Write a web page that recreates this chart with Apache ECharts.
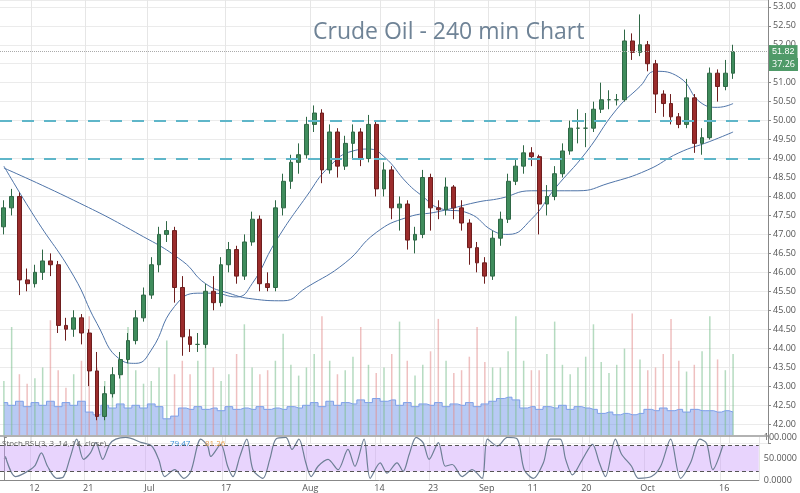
<!DOCTYPE html>
<html>
<head>
<meta charset="utf-8">
<script src="https://cdn.jsdelivr.net/npm/echarts@6/dist/echarts.min.js"></script>
<style>html,body{margin:0;padding:0;background:#fff}#chart{width:800px;height:493px}</style>
</head>
<body>
<div id="chart"></div>
<script>
// daily bars, Jun 6 .. Oct 16
const firstOpen = 47.2;
const closes = [47.7, 48.0, 45.8, 45.7, 46.0, 46.3, 46.2, 44.6, 44.5, 44.8, 44.4, 43.4, 42.2, 42.8, 43.3, 43.7, 44.2, 44.8, 45.4, 46.2,
  47.0, 47.1, 45.6, 44.3, 44.1, 44.1, 45.5, 45.2, 46.2, 46.6, 45.9, 46.8, 47.4, 45.7, 45.6, 47.7, 48.4, 48.9, 49.1, 49.9,
  50.2, 48.7, 49.7, 48.8, 49.4, 49.7, 49.0, 49.9, 48.2, 48.7, 47.7, 47.8, 46.85, 47.0, 48.5, 47.7, 47.65, 48.25, 47.7, 47.3,
  46.65, 46.25, 45.9, 46.9, 47.4, 48.4, 48.8, 49.15, 49.05, 47.8, 48.0, 48.6, 49.2, 49.8, 49.8, 49.8, 50.3, 50.55, 50.55, 50.55,
  52.1, 51.8, 52.0, 51.5, 50.7, 50.45, 50.1, 49.9, 50.6, 49.4, 49.55, 51.25, 50.9, 51.25, 51.82];
const highs = [47.9, 48.2, 48.1, 46.1, 46.2, 46.6, 46.5, 46.3, 44.8, 45.0, 44.9, 44.5, 43.9, 43.0, 43.5, 43.9, 44.4, 45.0, 45.6, 46.4,
  47.2, 47.35, 47.2, 45.9, 44.5, 44.4, 45.7, 45.9, 46.4, 46.8, 46.7, 47.0, 47.6, 47.5, 46.0, 47.9, 48.6, 49.1, 49.4, 50.1,
  50.4, 50.3, 49.9, 49.8, 49.6, 49.9, 49.8, 50.15, 50.0, 48.9, 48.8, 48.0, 47.9, 47.2, 48.7, 48.6, 47.9, 48.5, 48.3, 47.9,
  47.4, 46.8, 46.4, 47.1, 47.6, 48.6, 49.0, 49.35, 49.3, 49.1, 48.3, 48.8, 49.4, 50.0, 50.3, 50.2, 50.5, 51.0, 50.8, 50.7,
  52.4, 52.3, 52.8, 52.1, 51.6, 50.8, 50.7, 50.2, 51.1, 50.7, 49.8, 51.4, 51.35, 51.6, 52.0];
const lows = [47.0, 47.5, 45.4, 45.5, 45.6, 45.8, 45.9, 44.4, 44.2, 44.3, 44.1, 43.0, 42.1, 42.1, 42.7, 43.2, 43.6, 44.1, 44.7, 45.3,
  46.0, 46.8, 45.2, 43.8, 43.9, 43.9, 44.0, 45.0, 45.1, 46.0, 45.7, 45.8, 46.7, 45.5, 45.5, 45.5, 47.5, 48.2, 48.6, 49.0,
  49.7, 48.35, 48.6, 48.5, 48.7, 49.0, 48.8, 48.9, 48.0, 48.0, 47.4, 47.1, 46.6, 46.5, 46.9, 47.1, 47.4, 47.5, 47.4, 47.1,
  46.2, 46.0, 45.7, 45.8, 46.7, 47.3, 48.3, 48.6, 48.8, 47.0, 47.5, 47.9, 48.5, 49.1, 49.4, 49.3, 49.7, 50.2, 50.3, 50.4,
  50.5, 51.6, 51.7, 51.3, 50.2, 50.1, 49.9, 49.8, 49.8, 49.15, 49.1, 49.5, 50.5, 50.8, 51.1];

// moving averages, read at [bar index, price]
const maFast = [[0, 48.8], [4, 47.45], [9, 45.9], [12, 44.65], [15, 43.7], [17, 43.6], [19, 43.95], [22, 45.1], [25, 45.45],
  [27, 45.45], [30, 45.35], [32, 45.7], [35, 46.8], [39, 48.0], [42, 48.8], [45, 49.2], [47, 49.25], [49, 49.05], [52, 48.35],
  [54, 48.0], [56, 47.7], [60, 47.55], [63, 47.1], [65, 47.0], [68, 47.4], [71, 48.2], [75, 49.15], [79, 50.3], [82, 50.9],
  [84, 51.3], [87, 51.15], [90, 50.45], [92, 50.35], [94, 50.45]];
const maSlow = [[0, 48.75], [9, 47.9], [17, 47.05], [23, 46.3], [26, 45.7], [29, 45.45], [32, 45.3], [36, 45.25], [39, 45.6],
  [44, 46.25], [48, 47.05], [52, 47.45], [56, 47.6], [61, 47.85], [64, 47.95], [68, 48.15], [74, 48.15], [78, 48.35],
  [83, 48.7], [87, 49.15], [91, 49.45], [94, 49.7]];

const volAvg = [24, 22, 25, 21, 24, 22, 25, 21, 24, 22, 25, 17, 15, 22, 20, 23, 20, 22, 20, 23, 21, 12, 14,
  20, 19, 21, 19, 20, 18, 21, 19, 20, 19, 21, 19, 20, 19, 21, 20, 22, 24, 21, 25, 22, 24, 23, 26, 24, 27, 25, 26,
  22, 24, 21, 23, 22, 24, 21, 23, 22, 24, 21, 23, 25, 27, 28, 26, 20, 21, 19, 21, 20, 22, 19, 21, 20, 19,
  16, 17, 15, 16, 15, 16, 19, 18, 20, 18, 19, 17, 19, 18, 18, 17, 18, 17];
const volBars = [40, 80, 45, 38, 42, 50, 85, 48, 35, 45, 55, 88, 50, 40, 42, 52, 80, 48, 38, 40, 50, 70, 45, 55,
  45, 55, 85, 50, 40, 45, 60, 82, 50, 45, 48, 55, 75, 52, 44, 50, 60, 88, 55, 45, 48, 58, 80, 52, 46,
  50, 60, 84, 55, 44, 52, 62, 86, 55, 46, 48, 58, 80, 54, 50, 50, 62, 88, 55, 48, 48, 60, 84, 52, 45,
  50, 58, 82, 54, 46, 52, 64, 90, 56, 48, 50, 60, 86, 55, 47, 52, 62, 88, 56, 48, 60];

// stoch RSI %K read at [bar index, value]
const stochK = [[0.2, 55], [1.5, 8], [2.7, 16], [4, 32], [4.9, 63], [5.7, 32], [6.9, 4], [7.8, 8], [8.7, 55], [9.5, 95],
  [10.4, 48], [11.3, 63], [12, 87], [12.9, 48], [13.8, 83], [14.6, 95], [15.9, 99], [18, 87], [19.3, 79], [20.2, 48],
  [21, 8], [22.3, 24], [23.5, 4], [24.4, 20], [25.7, 95], [26.6, 79], [27, 55], [28.3, 83], [29.2, 32], [29.9, 8],
  [30.8, 55], [31.7, 95], [32.5, 24], [33.8, 4], [34.7, 48], [35.5, 95], [36.8, 99], [37.6, 71], [38.5, 95], [39.4, 40],
  [40.1, 8], [41, 32], [42.3, 48], [43.6, 24], [44.9, 71], [45.8, 32], [47, 95], [47.8, 4], [49.1, 40], [50, 16],
  [51.3, 40], [52.1, 20], [52.9, 60], [53.8, 99], [54.7, 87], [55.5, 48], [56.7, 87], [57.6, 32], [58.5, 36], [59.8, 8],
  [61.1, 24], [62.4, 4], [63.1, 95], [64.4, 79], [65.7, 99], [67, 95], [67.9, 24], [69.1, 4], [70.4, 40], [71.3, 95],
  [72.6, 95], [73.3, 48], [74.2, 12], [75.5, 48], [76.8, 83], [77.7, 40], [78.5, 8], [79.8, 95], [80.6, 60], [81.9, 32],
  [82.8, 4], [84.5, 8], [85.7, 32], [87, 95], [88.3, 4], [89.6, 40], [90.8, 95], [91.7, 85], [92.5, 24], [93.8, 79]];

const tickLabels = { '06-12': '12', '06-21': '21', '07-03': 'Jul', '07-17': '17', '08-01': 'Aug', '08-14': '14',
  '08-23': '23', '09-01': 'Sep', '09-11': '11', '09-20': '20', '10-02': 'Oct', '10-16': '16' };

// weekday categories, a few empty ones after the last bar
const dates = [];
const d = new Date(2017, 5, 6);
while (dates.length < 99) {
  if (d.getDay() !== 0 && d.getDay() !== 6) {
    dates.push(String(d.getMonth() + 1).padStart(2, '0') + '-' + String(d.getDate()).padStart(2, '0'));
  }
  d.setDate(d.getDate() + 1);
}

const candles = closes.map((c, i) => [i === 0 ? firstOpen : closes[i - 1], c, lows[i], highs[i]]);
const volBarData = volBars.map((v, i) => ({
  value: v,
  itemStyle: { color: candles[i][1] >= candles[i][0] ? 'rgba(120,190,140,0.55)' : 'rgba(225,140,140,0.55)' },
}));

const tickShown = (idx, val) => tickLabels[val] !== undefined;
const G = { left: 0, right: 32 };
const txt = { color: '#555', fontSize: 9, fontFamily: 'Open Sans' };

const chart = echarts.init(document.getElementById('chart'));
chart.setOption({
  animation: false,
  title: {
    text: 'Crude Oil - 240 min Chart', left: 308, top: 16,
    textStyle: { color: '#6f8396', fontSize: 23, fontWeight: 'normal', fontFamily: 'Open Sans' },
  },
  grid: [
    { ...G, top: 0, height: 443 },
    { ...G, top: 300, height: 135 },
    { ...G, top: 437, height: 43 },
  ],
  xAxis: [
    { type: 'category', data: dates, gridIndex: 0, axisLine: { show: false }, axisTick: { show: false },
      axisLabel: { show: false }, splitLine: { show: true, interval: tickShown, lineStyle: { color: '#e6e6e6' } } },
    { type: 'category', data: dates, gridIndex: 1, show: false },
    { type: 'category', data: dates, gridIndex: 2, axisLine: { lineStyle: { color: '#888' } }, axisTick: { show: false },
      axisLabel: { ...txt, interval: tickShown, formatter: v => tickLabels[v], margin: 4 },
      splitLine: { show: true, interval: tickShown, lineStyle: { color: '#e6e6e6' } } },
    { type: 'value', gridIndex: 2, min: -0.5, max: 98.5, show: false },
  ],
  yAxis: [
    { type: 'value', gridIndex: 0, position: 'right', min: 41.5, max: 53.18, interval: 0.5,
      axisLine: { show: true, lineStyle: { color: '#888' } }, axisTick: { show: true, length: 3, lineStyle: { color: '#888' } },
      axisLabel: { ...txt, margin: 5, showMaxLabel: false, formatter: v => (v < 42 || v > 53) ? '' : v.toFixed(2) },
      splitLine: { lineStyle: { color: '#ebebeb' } } },
    { type: 'value', gridIndex: 1, min: 0, max: 100, show: false },
    { type: 'value', gridIndex: 2, position: 'right', min: 0, max: 100, interval: 50,
      axisLine: { show: true, lineStyle: { color: '#888' } }, axisTick: { show: true, length: 3 },
      axisLabel: { ...txt, margin: 5, formatter: v => v === 100 ? '100.000' : v === 50 ? '50.0000' : '0.0000' },
      splitLine: { show: false } },
  ],
  series: [
    { type: 'bar', xAxisIndex: 1, yAxisIndex: 1, data: volBarData, barWidth: 1.5, z: 1 },
    { type: 'line', xAxisIndex: 1, yAxisIndex: 1, data: volAvg, step: 'middle', symbol: 'none', z: 1,
      lineStyle: { color: '#7d9fe8', width: 1 }, areaStyle: { color: 'rgba(120,155,235,0.75)' } },
    { type: 'candlestick', xAxisIndex: 0, yAxisIndex: 0, data: candles, barWidth: '55%', z: 3,
      itemStyle: { color: '#3f8c5c', color0: '#9b2c2c', borderColor: '#2f6846', borderColor0: '#6e1e1e', borderWidth: 1 },
      markLine: {
        symbol: 'none', silent: true,
        data: [
          { yAxis: 50, lineStyle: { color: '#5fb6c9', width: 2, type: [12, 10] }, label: { show: false } },
          { yAxis: 49, lineStyle: { color: '#5fb6c9', width: 2, type: [12, 10] }, label: { show: false } },
          { yAxis: 51.82, lineStyle: { color: '#aaa', width: 1, type: 'dotted' },
            label: { position: 'end', formatter: '51.82', color: '#fff', fontSize: 9, backgroundColor: '#4f9a68',
              padding: [2, 3], distance: 1 } },
        ],
      } },
    { type: 'line', xAxisIndex: 0, yAxisIndex: 0, data: maFast.map(p => [dates[p[0]], p[1]]), smooth: true,
      symbol: 'none', z: 2, lineStyle: { color: '#4f74a8', width: 1 } },
    { type: 'line', xAxisIndex: 0, yAxisIndex: 0, data: maSlow.map(p => [dates[p[0]], p[1]]), smooth: true,
      symbol: 'none', z: 2, lineStyle: { color: '#4f74a8', width: 1 } },
    { type: 'line', xAxisIndex: 3, yAxisIndex: 2, data: stochK, smooth: 0.3, symbol: 'none',
      lineStyle: { color: '#6d7f95', width: 1.2 },
      markArea: { silent: true, itemStyle: { color: 'rgba(205,160,250,0.45)' }, data: [[{ yAxis: 20 }, { yAxis: 80 }]] },
      markLine: { symbol: 'none', silent: true, label: { show: false },
        lineStyle: { color: '#555', type: [4, 3], width: 1 }, data: [{ yAxis: 80 }, { yAxis: 20 }] } },
  ],
  graphic: [
    { type: 'line', z: 100, shape: { x1: 0, y1: 436, x2: 768, y2: 436 }, style: { stroke: '#999', lineWidth: 1.5 } },
    { type: 'rect', z: 100, shape: { x: 769, y: 58, width: 29, height: 13 }, style: { fill: '#4f9a68' } },
    { type: 'text', z: 101, x: 772, y: 60, style: { text: '37.26', fill: '#fff', fontSize: 9, fontFamily: 'Open Sans' } },
    { type: 'text', z: 100, x: 2, y: 440, style: { text: 'Stoch RSI (3, 3, 14, 14, close)', fill: '#666', fontSize: 8, fontFamily: 'Open Sans' } },
    { type: 'text', z: 100, x: 170, y: 440, style: { text: '79.47', fill: '#3a8fd9', fontSize: 8, fontFamily: 'Open Sans' } },
    { type: 'text', z: 100, x: 205, y: 440, style: { text: '81.26', fill: '#e8a050', fontSize: 8, fontFamily: 'Open Sans' } },
  ],
});
</script>
</body>
</html>
